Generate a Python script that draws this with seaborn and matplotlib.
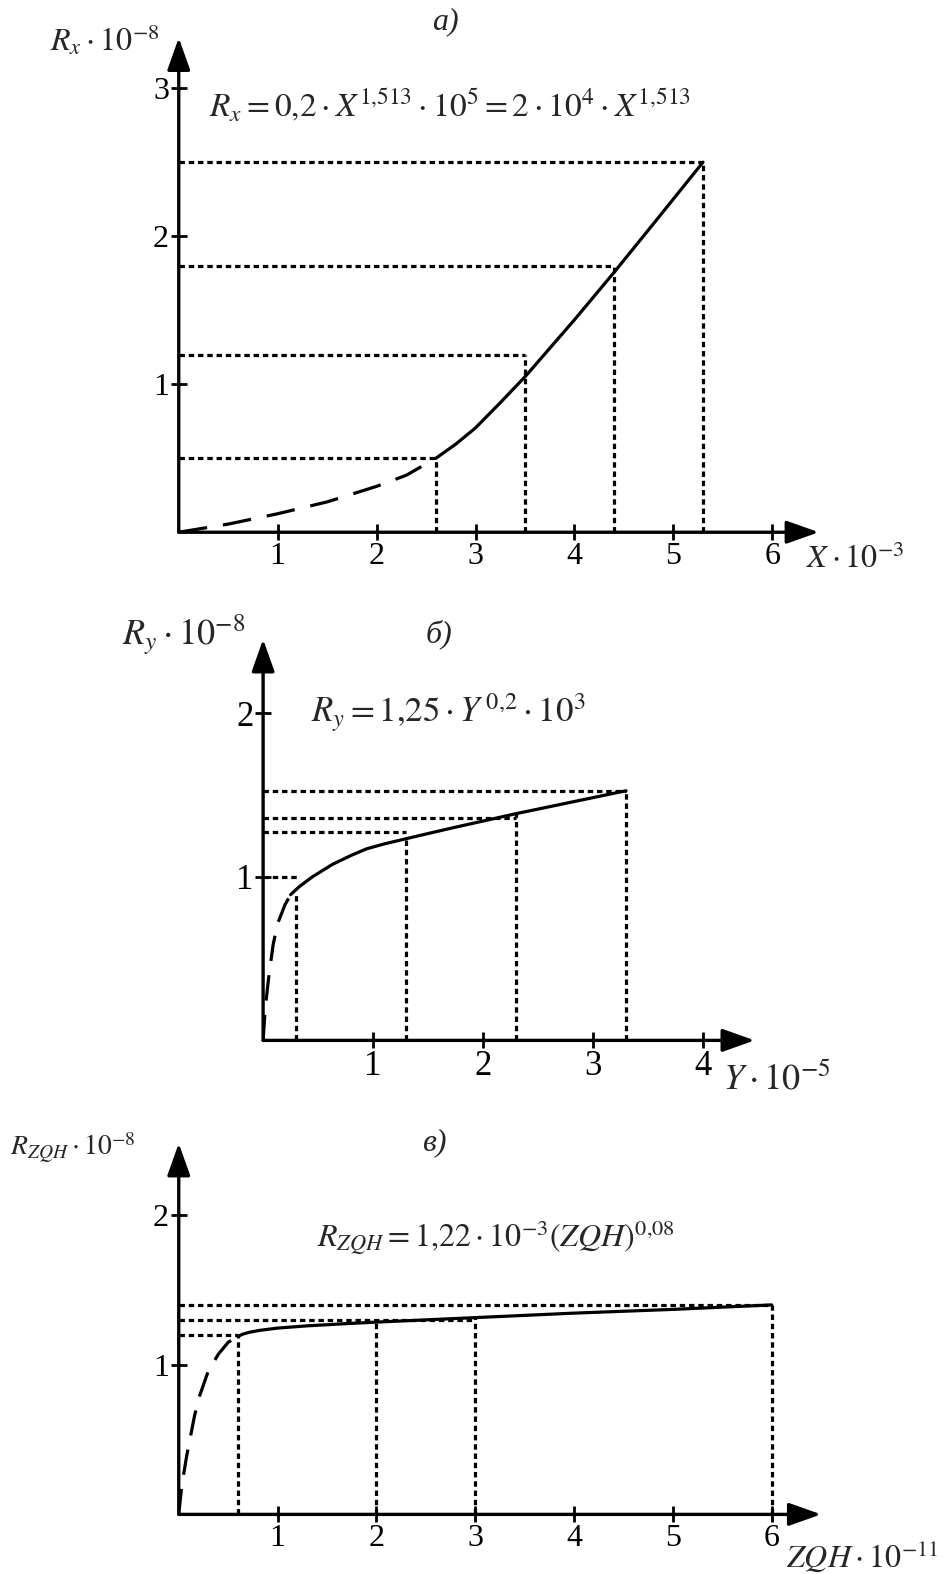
import numpy as np
import pandas as pd
import seaborn as sns
import matplotlib
matplotlib.use('Agg')
import matplotlib.pyplot as plt

# ---- data ----
# panel a)
a_dash_x = [0.0, 0.5, 1.0, 1.5, 2.0, 2.3, 2.6]
a_dash_y = [0.0, 0.055, 0.125, 0.205, 0.31, 0.385, 0.50]
a_solid_x = [2.6, 2.8, 3.0, 3.25, 3.5, 4.0, 4.4, 4.8, 5.3]
a_solid_y = [0.50, 0.595, 0.705, 0.875, 1.05, 1.435, 1.755, 2.085, 2.50]
a_vline_x = [2.6, 3.5, 4.4, 5.3]
a_vline_top = [0.5, 1.2, 1.8, 2.5]
a_hline_y = [0.5, 1.2, 1.8, 2.5]
a_hline_right = [2.6, 3.5, 4.4, 5.3]
a_xticks = [1, 2, 3, 4, 5, 6]
a_yticks = [1, 2, 3]

# panel б)
b_dash_x = [0.0, 0.02, 0.05, 0.09, 0.13, 0.20, 0.25]
b_dash_y = [0.0, 0.20, 0.38, 0.58, 0.71, 0.83, 0.89]
b_solid_x = [0.25, 0.33, 0.45, 0.63, 0.8, 0.94, 1.1, 1.3, 1.7, 2.3, 2.8, 3.3]
b_solid_y = [0.89, 0.94, 1.0, 1.075, 1.13, 1.17, 1.2, 1.232, 1.295, 1.385, 1.455, 1.525]
b_vline_x = [0.3, 1.3, 2.3, 3.3]
b_vline_top = [0.9, 1.23, 1.385, 1.525]
b_hline_y = [1.0, 1.275, 1.36, 1.525]
b_hline_right = [0.33, 1.3, 2.3, 3.3]
b_xticks = [1, 2, 3, 4]
b_yticks = [1, 2]

# panel в)
c_dash_x = [0.0, 0.03, 0.08, 0.16, 0.21, 0.30, 0.40, 0.50, 0.6]
c_dash_y = [0.0, 0.19, 0.39, 0.66, 0.79, 0.96, 1.07, 1.15, 1.19]
c_solid_x = [0.6, 0.65, 0.72, 0.82, 1.0, 1.3, 1.7, 2.0, 3.0, 4.0, 5.0, 6.0]
c_solid_y = [1.19, 1.205, 1.218, 1.23, 1.245, 1.26, 1.275, 1.285, 1.315, 1.345, 1.37, 1.40]
c_vline_x = [0.6, 2.0, 3.0, 6.0]
c_vline_top = [1.19, 1.285, 1.31, 1.40]
c_hline_y = [1.2, 1.3, 1.4]
c_hline_right = [0.6, 3.0, 6.0]
c_xticks = [1, 2, 3, 4, 5, 6]
c_yticks = [1, 2]

W, H = 949, 1574
S = 949 / 945

sns.set_style('white')
plt.rcParams['font.family'] = ['Liberation Serif', 'DejaVu Serif']
plt.rcParams['mathtext.fontset'] = 'stix'

fig = plt.figure(figsize=(W / 100, H / 100), dpi=100)


def make_axes(ox, oy, xmax, ymax, xpx, ypx):
    # origin and scale in reference pixels (top-left origin)
    ox, oy, xpx, ypx = ox * S, oy * S, xpx * S, ypx * S
    ax = fig.add_axes([ox / W, 1 - oy / H, xmax * xpx / W, ymax * ypx / H])
    ax.set_xlim(0, xmax)
    ax.set_ylim(0, ymax)
    return ax


def draw_panel(ax, dx, dy, sx, sy, vx, vtop, hy, hright, xt, yt, dash, fs):
    for sp in ax.spines.values():
        sp.set_visible(False)
    xmax = ax.get_xlim()[1]
    ymax = ax.get_ylim()[1]
    arrow = dict(arrowstyle='-|>,head_length=0.9,head_width=0.32', lw=2.4,
                 color='k', shrinkA=0, shrinkB=0, mutation_scale=22)
    ax.annotate('', xy=(xmax, 0), xytext=(0, 0), arrowprops=arrow, annotation_clip=False)
    ax.annotate('', xy=(0, ymax), xytext=(0, 0), arrowprops=arrow, annotation_clip=False)

    dot = (0, (1.7, 1.2))
    ax.vlines(vx, 0, vtop, colors='k', lw=2.3, linestyles=[dot])
    ax.hlines(hy, 0, hright, colors='k', lw=2.3, linestyles=[dot])

    sns.lineplot(x=dx, y=dy, ax=ax, color='k', lw=2.3, linestyle=(0, dash),
                 sort=False, estimator=None)
    sns.lineplot(x=sx, y=sy, ax=ax, color='k', lw=2.3, sort=False, estimator=None)

    ax.set_xticks(xt)
    ax.set_yticks(yt)
    ax.set_xticklabels([str(t) for t in xt])
    ax.set_yticklabels([str(t) for t in yt])
    ax.tick_params(direction='inout', length=12, width=2, labelsize=fs, pad=1,
                   bottom=True, left=True, colors='k')
    ax.set_xlabel('')
    ax.set_ylabel('')
    ax.patch.set_alpha(0)


def ftext(x, y, s, fs, ha='left', style='normal'):
    fig.text(x * S / W, 1 - y * S / H, s, fontsize=fs, ha=ha, va='center',
             style=style)


# panel a
ax_a = make_axes(178, 530, 6.47, 3.34, 98.5, 147.4)
draw_panel(ax_a, a_dash_x, a_dash_y, a_solid_x, a_solid_y, a_vline_x, a_vline_top,
           a_hline_y, a_hline_right, a_xticks, a_yticks, (9, 5), 23)
ftext(443, 22, 'а)', 23, ha='center', style='italic')
ftext(50, 40, r'$R_x\cdot 10^{-8}$', 23)
ftext(208, 105, r'$R_x = 0{,}2\cdot X^{1{,}513}\cdot 10^5 = 2\cdot 10^4\cdot X^{1{,}513}$', 24)
ftext(803, 557, r'$X\cdot 10^{-3}$', 23)

# panel b
ax_b = make_axes(262, 1036, 4.47, 2.45, 109.5, 163.0)
draw_panel(ax_b, b_dash_x, b_dash_y, b_solid_x, b_solid_y, b_vline_x, b_vline_top,
           b_hline_y, b_hline_right, b_xticks, b_yticks, (8, 4.5), 25)
ftext(437, 632, 'б)', 23, ha='center', style='italic')
ftext(121, 632, r'$R_y\cdot 10^{-8}$', 26)
ftext(310, 710, r'$R_y = 1{,}25\cdot Y^{\,0{,}2}\cdot 10^3$', 25)
ftext(720, 1075, r'$Y\cdot 10^{-5}$', 26)

# panel c
ax_c = make_axes(178, 1508, 6.5, 2.48, 98.4, 149.0)
draw_panel(ax_c, c_dash_x, c_dash_y, c_solid_x, c_solid_y, c_vline_x, c_vline_top,
           c_hline_y, c_hline_right, c_xticks, c_yticks, (8, 4.5), 23)
ftext(432, 1138, 'в)', 23, ha='center', style='italic')
ftext(10, 1143, r'$R_{ZQH}\cdot 10^{-8}$', 20)
ftext(316, 1232, r'$R_{ZQH} = 1{,}22\cdot 10^{-3}(ZQH)^{0{,}08}$', 23)
ftext(783, 1550, r'$ZQH\cdot 10^{-11}$', 23)

fig.savefig('out.png', dpi=100)
